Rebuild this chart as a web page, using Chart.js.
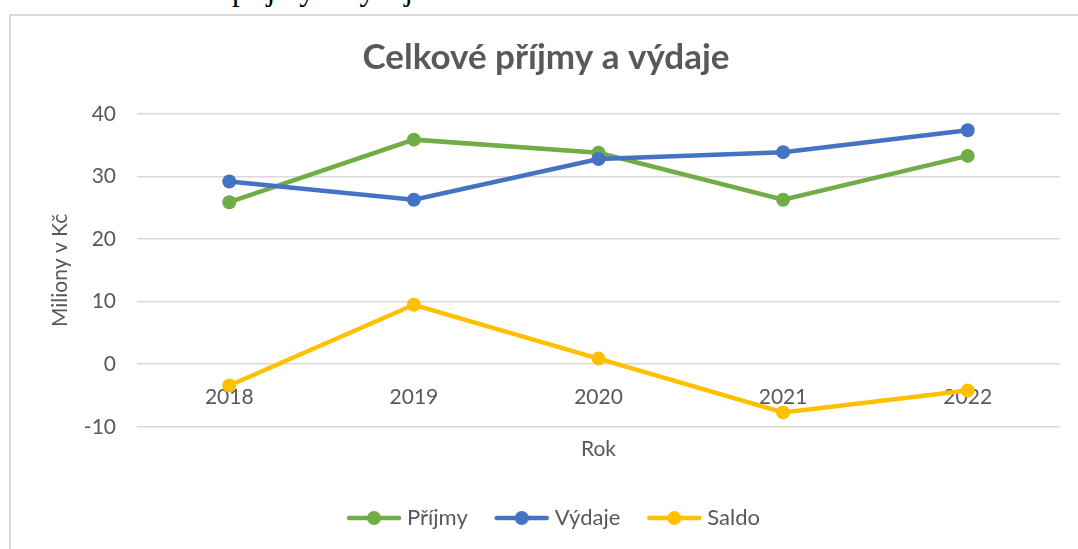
<!DOCTYPE html>
<html lang="cs">
<head>
<meta charset="utf-8">
<title>Celkové příjmy a výdaje</title>
<script src="https://cdn.jsdelivr.net/npm/chart.js@4/dist/chart.umd.min.js"></script>
<style>
  html, body { margin: 0; padding: 0; background: #fff; overflow: hidden; }
  body { width: 1078px; height: 549px; position: relative; }
  #docText {
    position: absolute; left: 232px; top: -26px;
    font-family: "Liberation Serif", "DejaVu Serif", serif;
    font-size: 31px; line-height: 31px; color: #000; white-space: nowrap;
  }
  #frame {
    position: absolute; left: 9px; top: 14px; width: 1100px; height: 600px;
    border: 2px solid #d9d9d9; box-sizing: border-box;
  }
  #chart { position: absolute; left: 0; top: 0; }
</style>
</head>
<body>
<div id="docText">příjmy a výdaje</div>
<div id="frame"></div>
<canvas id="chart" width="1078" height="549"></canvas>
<script>
// data (millions CZK)
const years = ['2018', '2019', '2020', '2021', '2022'];
const prijmy = [25.9, 35.9, 33.8, 26.3, 33.3];
const vydaje = [29.2, 26.3, 32.8, 33.9, 37.4];
const saldo = [-3.4, 9.5, 0.9, -7.7, -4.2];
const yTicks = [-10, 0, 10, 20, 30, 40];

const textColor = '#595959';
const fontFamily = 'Lato, "Open Sans", "Noto Sans", sans-serif';

// legend marker: short line with a dot in the middle, like Excel
function legendMarker(color) {
  const c = document.createElement('canvas');
  c.width = 56;
  c.height = 16;
  const ctx = c.getContext('2d');
  ctx.strokeStyle = color;
  ctx.lineWidth = 4.5;
  ctx.lineCap = 'round';
  ctx.beginPath();
  ctx.moveTo(3, 8);
  ctx.lineTo(53, 8);
  ctx.stroke();
  ctx.fillStyle = color;
  ctx.beginPath();
  ctx.arc(28, 8, 7, 0, Math.PI * 2);
  ctx.fill();
  return c;
}

function series(label, data, color, order) {
  return {
    label: label,
    data: data,
    borderColor: color,
    backgroundColor: color,
    borderWidth: 4.5,
    pointRadius: 7,
    pointHoverRadius: 7,
    pointBorderWidth: 0,
    pointBackgroundColor: color,
    tension: 0,
    fill: false,
    order: order,
    xAxisID: 'x',
    marker: legendMarker(color)
  };
}

const datasets = [
  series('Příjmy', prijmy, '#70AD47', 3),
  series('Výdaje', vydaje, '#4472C4', 2),
  series('Saldo', saldo, '#FFC000', 1)
];

// the source chart box is wider than the window, so its title and legend
// sit a bit right of the visible center
const boxShift = {
  id: 'boxShift',
  afterLayout(chart) {
    chart.titleBlock.left += 16;
    chart.titleBlock.right += 16;
    chart.legend.left += 26;
    chart.legend.right += 26;
  }
};

new Chart(document.getElementById('chart').getContext('2d'), {
  type: 'line',
  data: { labels: years, datasets: datasets },
  plugins: [boxShift],
  options: {
    responsive: false,
    animation: false,
    layout: { padding: { left: 0, right: 18, top: 0, bottom: 10 } },
    scales: {
      x: {
        type: 'category',
        position: { y: 0 },
        offset: true,
        grid: { display: false },
        border: { display: false },
        ticks: { color: textColor, font: { family: fontFamily, size: 21 }, padding: 12 }
      },
      x2: {
        type: 'category',
        position: 'bottom',
        offset: true,
        grid: { display: false },
        border: { display: false },
        ticks: { display: false },
        title: {
          display: true,
          text: 'Rok',
          color: textColor,
          font: { family: fontFamily, size: 21 },
          padding: { top: 2, bottom: 13 }
        }
      },
      y: {
        min: -10,
        max: 40,
        afterBuildTicks: scale => { scale.ticks = yTicks.map(v => ({ value: v })); },
        afterFit: scale => { scale.width = 137; },
        grid: { color: '#d9d9d9', lineWidth: 1.5, drawTicks: false },
        border: { display: false },
        ticks: { color: textColor, font: { family: fontFamily, size: 21 }, padding: 21 },
        title: {
          display: true,
          text: 'Miliony v Kč',
          color: textColor,
          font: { family: fontFamily, size: 21 },
          padding: { top: 48, bottom: 0 }
        }
      }
    },
    plugins: {
      title: {
        display: true,
        text: 'Celkové příjmy a výdaje',
        color: textColor,
        font: { family: fontFamily, size: 35, weight: 'bold' },
        padding: { top: 37, bottom: 35 }
      },
      legend: {
        display: true,
        position: 'bottom',
        labels: {
          usePointStyle: true,
          pointStyleWidth: 44,
          padding: 32,
          color: textColor,
          font: { family: fontFamily, size: 22 },
          generateLabels: chart => chart.data.datasets.map((ds, i) => ({
            text: ds.label,
            pointStyle: ds.marker,
            fillStyle: ds.borderColor,
            strokeStyle: ds.borderColor,
            lineWidth: 0,
            fontColor: textColor,
            hidden: !chart.isDatasetVisible(i),
            datasetIndex: i
          }))
        }
      },
      tooltip: { enabled: false }
    }
  }
});
</script>
</body>
</html>
